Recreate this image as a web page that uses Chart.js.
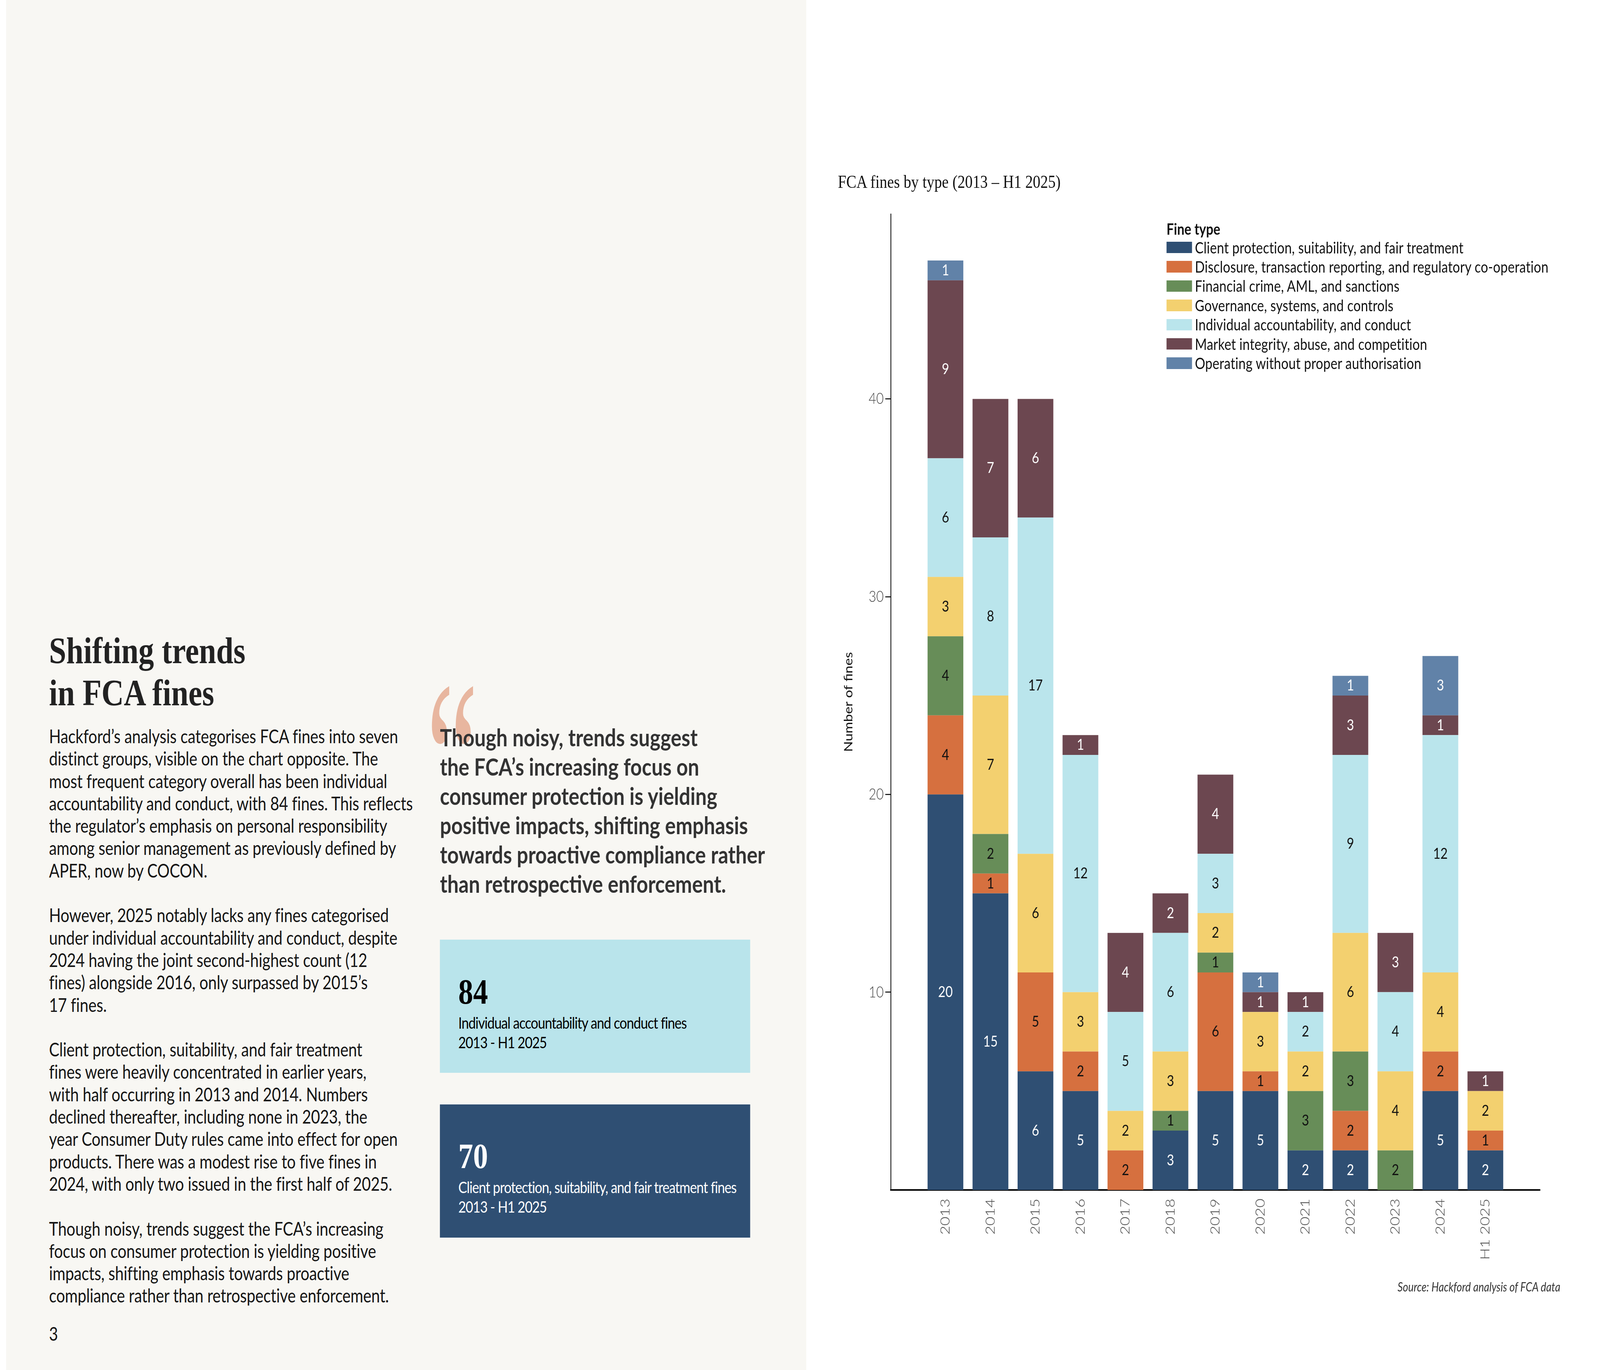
<!DOCTYPE html>
<html>
<head>
<meta charset="utf-8">
<script src="https://cdn.jsdelivr.net/npm/chart.js@4.4.1/dist/chart.umd.min.js"></script>
<style>
  html, body { margin: 0; padding: 0; background: #fff; overflow: hidden; }
  #root { width: 4961px; height: 3508px; position: absolute; left: 0; top: 0; transform-origin: 0 0; font-family: Lato, sans-serif; }
  #panel { position: absolute; left: 19px; top: 0; width: 2481px; height: 3508px; background: #f8f7f3; }
  .abs { position: absolute; white-space: pre; margin: 0; }
  #heading { left: 152px; top: 1612px; font: 700 96px/108px "Liberation Serif", serif; color: #222; }
  #body { left: 152px; top: 1856px; font: 400 48px/57.3px Lato; letter-spacing: -0.2px; color: #151515; }
  #page { left: 152px; top: 3386px; font: 400 48px/57.3px Lato; color: #151515; }
  #qmark { left: 1322px; top: 1659px; font: 400 360px/1 "Liberation Serif", serif; color: #e8b69f; transform: scaleY(1.6); transform-origin: top left; }
  #quote { left: 1364px; top: 1850px; font: 700 62px/75px Lato; color: #333; }
  .box { position: absolute; left: 1364px; width: 962px; height: 341px; }
  #box1 { top: 2406px; background: #b9e4eb; }
  #box2 { top: 2828px; background: #2f4f73; }
  .big { position: absolute; left: 57px; font: 700 92px/1 "Liberation Serif", serif; }
  .cap { position: absolute; left: 57px; font: 400 41px/50px Lato; letter-spacing: -1.3px; white-space: pre; }
  #title { left: 2598px; top: 442px; font: 400 47px/1 "Liberation Serif", serif; color: #111; }
  #source { right: 123px; top: 3279px; font: italic 400 32px/1 Lato; color: #333; }
  #legend { position: absolute; left: 3617px; top: 566px; }
  #legend .lt { font: 700 40px/1 Lato; color: #111; height: 43px; }
  #legend .item { position: absolute; left: 0; height: 49.4px; display: flex; align-items: center; white-space: nowrap; }
  #legend .sw { width: 79px; height: 29.5px; margin-right: 9px; }
  #legend .tx { font: 400 40px Lato; color: #111; letter-spacing: 0.3px; }
  #chartWrap { position: absolute; left: 2560px; top: 500px; width: 2240px; height: 2800px; }
</style>
</head>
<body>
<div id="root">
<div id="panel"></div>
<div class="abs" id="heading">Shifting trends
in FCA fines</div>
<div class="abs" id="body">Hackford’s analysis categorises FCA fines into seven
distinct groups, visible on the chart opposite. The
most frequent category overall has been individual
accountability and conduct, with 84 fines. This reflects
the regulator’s emphasis on personal responsibility
among senior management as previously defined by
APER, now by COCON.

However, 2025 notably lacks any fines categorised
under individual accountability and conduct, despite
2024 having the joint second-highest count (12
fines) alongside 2016, only surpassed by 2015’s
17 fines.

Client protection, suitability, and fair treatment
fines were heavily concentrated in earlier years,
with half occurring in 2013 and 2014. Numbers
declined thereafter, including none in 2023, the
year Consumer Duty rules came into effect for open
products. There was a modest rise to five fines in
2024, with only two issued in the first half of 2025.

Though noisy, trends suggest the FCA’s increasing
focus on consumer protection is yielding positive
impacts, shifting emphasis towards proactive
compliance rather than retrospective enforcement.</div>
<div class="abs" id="page">3</div>
<div class="abs" id="qmark">“</div>
<div class="abs" id="quote">Though noisy, trends suggest
the FCA’s increasing focus on
consumer protection is yielding
positive impacts, shifting emphasis
towards proactive compliance rather
than retrospective enforcement.</div>
<div class="box" id="box1">
  <div class="big" style="top:87px;color:#000">84</div>
  <div class="cap" style="top:188px;color:#000">Individual accountability and conduct fines
2013 - H1 2025</div>
</div>
<div class="box" id="box2">
  <div class="big" style="top:86px;color:#fff">70</div>
  <div class="cap" style="top:187px;color:#fff">Client protection, suitability, and fair treatment fines
2013 - H1 2025</div>
</div>

<div class="abs" id="title">FCA fines by type (2013 – H1 2025)</div>
<div id="legend"></div>
<div id="chartWrap"><canvas id="finesChart" width="2240" height="2800"></canvas></div>
<div class="abs" id="source">Source: Hackford analysis of FCA data</div>
</div>

<script>
const years = ['2013', '2014', '2015', '2016', '2017', '2018', '2019', '2020', '2021', '2022', '2023', '2024', 'H1 2025'];
const fineTypes = [
  'Client protection, suitability, and fair treatment',
  'Disclosure, transaction reporting, and regulatory co-operation',
  'Financial crime, AML, and sanctions',
  'Governance, systems, and controls',
  'Individual accountability, and conduct',
  'Market integrity, abuse, and competition',
  'Operating without proper authorisation'
];
const clientProtection = [20, 15, 6, 5, 0, 3, 5, 5, 2, 2, 0, 5, 2];
const disclosure       = [4, 1, 5, 2, 2, 0, 6, 1, 0, 2, 0, 2, 1];
const financialCrime   = [4, 2, 0, 0, 0, 1, 1, 0, 3, 3, 2, 0, 0];
const governance       = [3, 7, 6, 3, 2, 3, 2, 3, 2, 6, 4, 4, 2];
const individual       = [6, 8, 17, 12, 5, 6, 3, 0, 2, 9, 4, 12, 0];
const marketIntegrity  = [9, 7, 6, 1, 4, 2, 4, 1, 1, 3, 3, 1, 1];
const unauthorised     = [1, 0, 0, 0, 0, 0, 0, 1, 0, 1, 0, 3, 0];
const yTicks = [10, 20, 30, 40];

const seriesValues = [clientProtection, disclosure, financialCrime, governance, individual, marketIntegrity, unauthorised];
const colors = ['#2f4f73', '#d6703f', '#678d58', '#f3d06f', '#bae5ec', '#6c4750', '#6182a8'];
const labelColors = ['#fff', '#111', '#111', '#111', '#111', '#fff', '#fff'];

// the page is laid out at 4961x3508; stretch it to the real viewport
const sx = window.innerWidth / 4961, sy = window.innerHeight / 3508;
document.getElementById('root').style.transform = 'scale(' + sx + ',' + sy + ')';

// legend
const legend = document.getElementById('legend');
legend.innerHTML = '<div class="lt">Fine type</div>';
fineTypes.forEach((name, i) => {
  const row = document.createElement('div');
  row.className = 'item';
  row.style.top = (43 + i * 49.4) + 'px';
  row.innerHTML = '<div class="sw" style="background:' + colors[i] + '"></div><div class="tx">' + name + '</div>';
  legend.appendChild(row);
});

const valueLabels = {
  id: 'valueLabels',
  afterDatasetsDraw(chart) {
    const ctx = chart.ctx;
    chart.data.datasets.forEach((ds, di) => {
      const meta = chart.getDatasetMeta(di);
      meta.data.forEach((bar, i) => {
        const v = ds.data[i].y;
        if (!v) return;
        const p = bar.getProps(['x', 'y', 'base'], true);
        ctx.save();
        ctx.fillStyle = labelColors[di];
        ctx.font = '400 39px Lato';
        ctx.textAlign = 'center';
        ctx.textBaseline = 'middle';
        ctx.fillText(String(v), p.x, (p.y + p.base) / 2);
        ctx.restore();
      });
    });
  }
};

const ctx = document.getElementById('finesChart').getContext('2d');
new Chart(ctx, {
  type: 'bar',
  data: {
    datasets: seriesValues.map((vals, k) => ({
      label: fineTypes[k],
      data: vals.map((v, i) => ({ x: i, y: v ? v : null })),
      backgroundColor: colors[k],
      borderWidth: 0,
      barPercentage: 0.795,
      categoryPercentage: 1
    }))
  },
  options: {
    responsive: false,
    animation: false,
    devicePixelRatio: 1,
    layout: { padding: { top: 48, right: 25, left: 0, bottom: 0 } },
    plugins: {
      legend: { display: false },
      tooltip: { enabled: false }
    },
    scales: {
      x: {
        type: 'linear',
        stacked: true,
        min: -0.66,
        max: 12.66,
        afterBuildTicks: s => { s.ticks = years.map((y, i) => ({ value: i })); },
        afterFit: s => { s.height = 253; },
        ticks: {
          callback: v => years[v],
          autoSkip: false,
          maxRotation: 90,
          minRotation: 90,
          padding: 22,
          color: '#444',
          font: { family: 'Lato', size: 40, weight: 300 }
        },
        grid: { display: false, drawTicks: false },
        border: { display: true, color: '#000', width: 4 }
      },
      y: {
        stacked: true,
        min: 0,
        max: 49.35,
        afterBuildTicks: s => { s.ticks = yTicks.map(v => ({ value: v })); },
        afterFit: s => { s.width = 202; },
        ticks: {
          padding: 5,
          color: '#444',
          font: { family: 'Lato', size: 40, weight: 300 }
        },
        grid: { drawOnChartArea: false, drawTicks: true, tickLength: 17, color: '#000', lineWidth: 2.5 },
        border: { display: true, color: '#000', width: 2.5 },
        title: {
          display: true,
          text: 'Number of fines',
          color: '#111',
          font: { family: 'Lato', size: 36, weight: 400 },
          padding: { top: 50, bottom: 0 }
        }
      }
    }
  },
  plugins: [valueLabels]
});
</script>
</body>
</html>
